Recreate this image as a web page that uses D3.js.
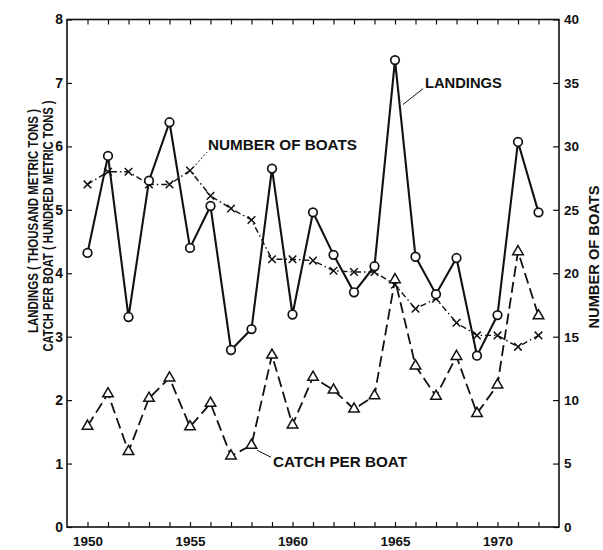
<!DOCTYPE html>
<html><head><meta charset="utf-8">
<script src="https://cdn.jsdelivr.net/npm/d3@7"></script>
<style>
html,body{margin:0;padding:0;background:#fff;}
svg{display:block;}
text{font-family:"Liberation Sans",Arial,sans-serif;fill:#111;}
</style></head>
<body>
<svg id="chart" width="603" height="550"></svg>
<script>
const years = d3.range(1950, 1973);
const landings = [4.32,5.85,3.31,5.46,6.38,4.40,5.06,2.79,3.12,5.65,3.35,4.96,4.29,3.70,4.11,7.36,4.26,3.67,4.24,2.70,3.34,6.07,4.96];
const boats = [27.0,28.0,28.0,27.0,27.0,28.1,26.1,25.1,24.2,21.1,21.1,21.0,20.2,20.1,20.1,19.1,17.2,18.0,16.1,15.1,15.1,14.2,15.1];
const catchPerBoat = [1.59,2.10,1.19,2.03,2.35,1.58,1.95,1.12,1.29,2.71,1.61,2.36,2.16,1.86,2.07,3.90,2.54,2.06,2.69,1.79,2.24,4.34,3.33];
const leftTicks = [0,1,2,3,4,5,6,7,8];
const rightTicks = [0,5,10,15,20,25,30,35,40];
const yearLabels = [1950,1955,1960,1965,1970];

const svg = d3.select("#chart");
const L = 67, R = 559, T = 19.5, B = 527;
const x = d3.scaleLinear().domain([1949, 1973]).range([L, R]);
const yL = d3.scaleLinear().domain([0, 8]).range([B, T]);
const yR = d3.scaleLinear().domain([0, 40]).range([B, T]);
const ink = "#111";

// frame
svg.append("rect").attr("x", L).attr("y", T).attr("width", R - L).attr("height", B - T)
  .attr("fill", "none").attr("stroke", ink).attr("stroke-width", 1.6);

// axes
const gB = svg.append("g").attr("transform", `translate(0,${B})`)
  .call(d3.axisBottom(x).tickValues(years).tickSizeInner(-5).tickSizeOuter(0).tickPadding(9)
    .tickFormat(d => yearLabels.includes(d) ? String(d) : ""));
const gT = svg.append("g").attr("transform", `translate(0,${T})`)
  .call(d3.axisTop(x).tickValues(years).tickSizeInner(-5).tickSizeOuter(0).tickFormat(""));
const gL = svg.append("g").attr("transform", `translate(${L},0)`)
  .call(d3.axisLeft(yL).tickValues(leftTicks).tickSizeInner(-5).tickSizeOuter(0).tickPadding(4).tickFormat(d3.format("d")));
const gR = svg.append("g").attr("transform", `translate(${R},0)`)
  .call(d3.axisRight(yR).tickValues(rightTicks).tickSizeInner(-6).tickSizeOuter(0).tickPadding(5).tickFormat(d3.format("d")));
[gB, gT, gL, gR].forEach(g => {
  g.select(".domain").remove();
  g.selectAll(".tick line").attr("stroke", ink).attr("stroke-width", 1.2);
  g.selectAll(".tick text").attr("fill", ink).style("font-family", "'Liberation Sans',Arial,sans-serif")
    .style("font-weight", "bold");
});
gB.selectAll(".tick text").style("font-size", "13.5px").attr("textLength", 30).attr("lengthAdjust", "spacingAndGlyphs");
gL.selectAll(".tick text").style("font-size", "14px");
gR.selectAll(".tick text").style("font-size", "13.5px");

// axis titles
svg.append("g").attr("transform", `translate(38,221) rotate(-90)`)
  .append("text").attr("text-anchor", "middle")
  .style("font-size", "15.5px").style("font-weight", "bold")
  .attr("textLength", 224).attr("lengthAdjust", "spacingAndGlyphs")
  .text("LANDINGS ( THOUSAND METRIC TONS )");
svg.append("g").attr("transform", `translate(53,226) rotate(-90)`)
  .append("text").attr("text-anchor", "middle")
  .style("font-size", "15.5px").style("font-weight", "bold")
  .attr("textLength", 251).attr("lengthAdjust", "spacingAndGlyphs")
  .text("CATCH PER BOAT ( HUNDRED METRIC TONS )");
svg.append("g").attr("transform", `translate(599,257) rotate(-90)`)
  .append("text").attr("text-anchor", "middle")
  .style("font-size", "15px").style("font-weight", "bold")
  .attr("textLength", 143).attr("lengthAdjust", "spacingAndGlyphs")
  .text("NUMBER OF BOATS");

// lines
const lineL = d3.line().x((d, i) => x(years[i])).y(d => yL(d));
const lineR = d3.line().x((d, i) => x(years[i])).y(d => yR(d));
svg.append("path").datum(catchPerBoat).attr("d", lineL).attr("fill", "none")
  .attr("stroke", ink).attr("stroke-width", 1.8).attr("stroke-dasharray", "11,5");
svg.append("path").datum(boats).attr("d", lineR).attr("fill", "none")
  .attr("stroke", ink).attr("stroke-width", 1.4).attr("stroke-dasharray", "6,3,1.5,3");
svg.append("path").datum(landings).attr("d", lineL).attr("fill", "none")
  .attr("stroke", ink).attr("stroke-width", 2.1);

// markers
const xs = 3.8;
svg.append("g").selectAll("path").data(boats).join("path")
  .attr("d", (d, i) => {
    const cx = x(years[i]), cy = yR(d);
    return `M${cx - xs},${cy - xs}L${cx + xs},${cy + xs}M${cx - xs},${cy + xs}L${cx + xs},${cy - xs}`;
  }).attr("stroke", ink).attr("stroke-width", 1.5);
svg.append("g").selectAll("path").data(catchPerBoat).join("path")
  .attr("d", d3.symbol(d3.symbolTriangle, 48))
  .attr("transform", (d, i) => `translate(${x(years[i])},${yL(d)})`)
  .attr("fill", "#fff").attr("stroke", ink).attr("stroke-width", 1.5);
svg.append("g").selectAll("circle").data(landings).join("circle")
  .attr("cx", (d, i) => x(years[i])).attr("cy", d => yL(d)).attr("r", 4.3)
  .attr("fill", "#fff").attr("stroke", ink).attr("stroke-width", 1.7);

// annotations (positions in data units)
const notes = [
  {text: "NUMBER OF BOATS", tx: 1955.88, ty: 5.95, len: 149, from: [1955.15, 5.66], to: [1955.83, 5.91], dash: "2,2"},
  {text: "LANDINGS", tx: 1966.46, ty: 6.92, len: 77, from: [1965.39, 6.66], to: [1966.37, 6.91], dash: null},
  {text: "CATCH PER BOAT", tx: 1959.05, ty: 0.95, len: 134, from: [1958.27, 1.21], to: [1958.95, 1.10], dash: null}
];
notes.forEach(n => {
  svg.append("line").attr("x1", x(n.from[0])).attr("y1", yL(n.from[1]))
    .attr("x2", x(n.to[0])).attr("y2", yL(n.to[1]))
    .attr("stroke", ink).attr("stroke-width", 1).attr("stroke-dasharray", n.dash);
  svg.append("text").attr("x", x(n.tx)).attr("y", yL(n.ty))
    .style("font-size", "15px").style("font-weight", "bold")
    .attr("textLength", n.len).attr("lengthAdjust", "spacingAndGlyphs")
    .text(n.text);
});
</script>
</body></html>
